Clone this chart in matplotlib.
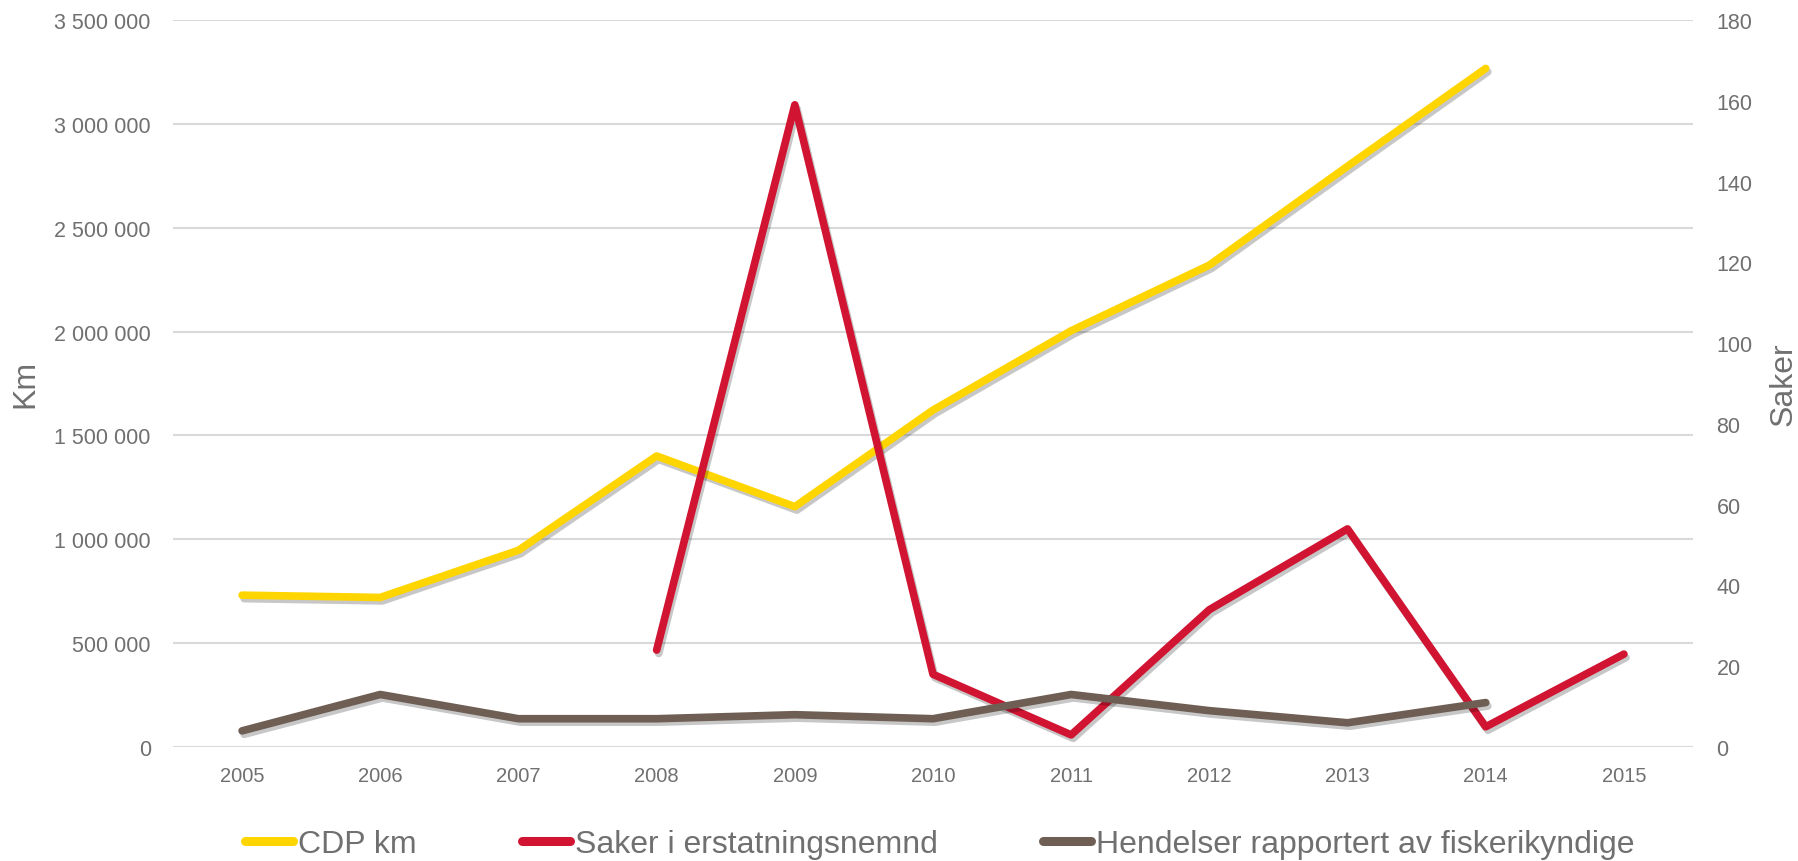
import numpy as np
import matplotlib
matplotlib.use("Agg")
import matplotlib.pyplot as plt
import matplotlib.patheffects as pe
from matplotlib.ticker import FuncFormatter, MultipleLocator

years = ["2005", "2006", "2007", "2008", "2009", "2010", "2011", "2012", "2013", "2014", "2015"]
cdp_km = [731000, 720000, 947000, 1401000, 1157000, 1622000, 2004000, 2320000, 2796000, 3267000, np.nan]
saker = [np.nan, np.nan, np.nan, 24, 159, 18, 3, 34, 54, 5, 23]
hendelser = [4, 13, 7, 7, 8, 7, 13, 9, 6, 11, np.nan]

labels = ["CDP km", "Saker i erstatningsnemnd", "Hendelser rapportert av fiskerikyndige"]
colors = ["#FFD500", "#D01431", "#6E5E53"]

plt.rcParams['font.family'] = ['Liberation Sans', 'DejaVu Sans']
text_col = "#707070"

fig = plt.figure(figsize=(17.99, 8.62), dpi=100)
ax = fig.add_axes([173/1799, 114/862, 1520/1799, 727/862])
ax2 = ax.twinx()

x = np.arange(len(years))
shadow = [pe.SimpleLineShadow(offset=(1.5, -2.5), shadow_color="black", alpha=0.22), pe.Normal()]

l1, = ax.plot(x, cdp_km, color=colors[0], lw=5.5, solid_capstyle="round", solid_joinstyle="round",
              path_effects=shadow, zorder=3, label=labels[0])
l2, = ax2.plot(x, saker, color=colors[1], lw=5.5, solid_capstyle="round", solid_joinstyle="round",
               path_effects=shadow, zorder=3, label=labels[1])
l3, = ax2.plot(x, hendelser, color=colors[2], lw=5.5, solid_capstyle="round", solid_joinstyle="round",
               path_effects=shadow, zorder=4, label=labels[2])

ax.set_xlim(-0.5, len(years) - 0.5)
ax.set_ylim(0, 3500000)
ax2.set_ylim(0, 180)
ax.yaxis.set_major_locator(MultipleLocator(500000))
ax2.yaxis.set_major_locator(MultipleLocator(20))
ax.yaxis.set_major_formatter(FuncFormatter(lambda v, p: f"{int(v):,}".replace(",", " ")))

ax.set_xticks(x)
ax.set_xticklabels(years)

for a in (ax, ax2):
    for s in a.spines.values():
        s.set_visible(False)

ax.grid(axis="y", color="#D9D9D9", lw=1.5)
ax.set_axisbelow(True)
ax.tick_params(axis="x", length=0, pad=14, labelsize=14.5, labelcolor=text_col)
ax.tick_params(axis="y", length=0, pad=16, labelsize=15.5, labelcolor=text_col)
ax2.tick_params(axis="y", length=0, pad=17, labelsize=15.5, labelcolor=text_col)

fig.text(25/1799, 1 - 384/862, "Km", rotation=90, ha="center", va="center", fontsize=23, color=text_col)
fig.text(1784/1799, 1 - 384/862, "Saker", rotation=90, ha="center", va="center", fontsize=23, color=text_col)

leg = fig.legend([l1, l2, l3], labels, loc="center", bbox_to_anchor=(0.5225, 1 - 845/862), ncol=3,
                 frameon=False, fontsize=23, handlelength=1.5, handletextpad=0.15, columnspacing=3.3,
                 labelcolor=text_col)
for h in leg.get_lines():
    h.set_linewidth(6.5)
    h.set_path_effects([])

fig.savefig("out.png", dpi=100)
